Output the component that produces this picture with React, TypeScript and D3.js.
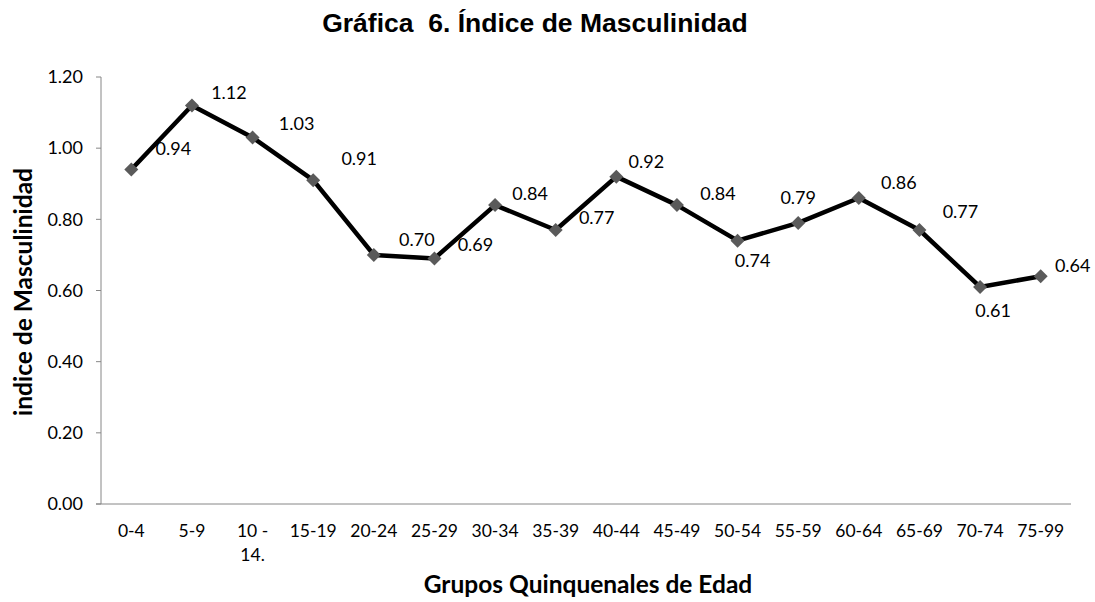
import React from "react";
import * as d3 from "d3";

const categories = ["0-4", "5-9", "10 - 14.", "15-19", "20-24", "25-29", "30-34", "35-39", "40-44", "45-49", "50-54", "55-59", "60-64", "65-69", "70-74", "75-99"];
const values = [0.94, 1.12, 1.03, 0.91, 0.70, 0.69, 0.84, 0.77, 0.92, 0.84, 0.74, 0.79, 0.86, 0.77, 0.61, 0.64];
const yTicks = [0, 0.2, 0.4, 0.6, 0.8, 1.0, 1.2];

// label placement offsets (layout, not data)
const labelOffsets: [number, number][] = [
  [42, -21], [37, -13], [44, -14], [46, -21], [43, -15], [41, -14], [35, -11], [41, -12],
  [30, -15], [41, -11], [15, 20], [0, -25], [40, -15], [41, -18], [13, 24], [32, -11],
];

const W = 1095;
const H = 602;
const left = 101;
const right = 1071;
const top = 77;
const bottom = 504;

export default function App() {
  const x = d3.scaleBand<string>().domain(categories).range([left, right]).padding(0);
  const y = d3.scaleLinear().domain([0, 1.2]).range([bottom, top]);
  const line = d3
    .line<number>()
    .x((_, i) => (x(categories[i]) as number) + x.bandwidth() / 2)
    .y((d) => y(d));
  const diamond = d3.symbol().type(d3.symbolDiamond2).size(125)() as string;
  const font = "Lato, 'Open Sans', sans-serif";

  return (
    <svg width={W} height={H} style={{ position: "absolute", left: 0, top: 0, background: "#fff" }}>
      <rect x={0} y={0} width={W} height={H} fill="#fff" />
      <text x={535} y={32} textAnchor="middle" fontFamily="'Liberation Sans', Arial, sans-serif" fontWeight="bold" fontSize={26.5} fill="#000" style={{ whiteSpace: "pre" }}>
        {"Gráfica  6. Índice de Masculinidad"}
      </text>
      {/* y axis */}
      <line x1={left} x2={left} y1={top} y2={bottom} stroke="#868686" strokeWidth={1} />
      {yTicks.map((t) => (
        <g key={t}>
          <line x1={left - 5} x2={left} y1={y(t)} y2={y(t)} stroke="#868686" />
          <text x={83} y={y(t)} dy="0.35em" textAnchor="end" fontFamily={font} fontSize={18} fill="#000">
            {t.toFixed(2)}
          </text>
        </g>
      ))}
      {/* x axis */}
      <line x1={left - 5} x2={right} y1={bottom} y2={bottom} stroke="#868686" strokeWidth={1} />
      {categories.map((c) => {
        const cx = (x(c) as number) + x.bandwidth() / 2;
        const parts = c === "10 - 14." ? ["10 -", "14."] : [c];
        return (
          <text key={c} x={cx} y={531} textAnchor="middle" fontFamily={font} fontSize={17.5} fill="#000">
            {parts.map((p, k) => (
              <tspan key={k} x={cx} dy={k === 0 ? "0.35em" : 24}>
                {p}
              </tspan>
            ))}
          </text>
        );
      })}
      {/* titles */}
      <text x={588} y={593} textAnchor="middle" fontFamily={font} fontWeight="bold" fontSize={24.5} fill="#000">
        Grupos Quinquenales de Edad
      </text>
      <text transform={`translate(23,292) rotate(-90)`} dy="0.35em" textAnchor="middle" fontFamily={font} fontWeight="bold" fontSize={24.5} fill="#000">
        indice de Masculinidad
      </text>
      {/* line */}
      <path d={line(values) as string} fill="none" stroke="#000" strokeWidth={4.5} strokeLinejoin="round" />
      {values.map((v, i) => {
        const cx = (x(categories[i]) as number) + x.bandwidth() / 2;
        return <path key={i} d={diamond} transform={`translate(${cx},${y(v)})`} fill="#5a5a5a" />;
      })}
      {values.map((v, i) => {
        const cx = (x(categories[i]) as number) + x.bandwidth() / 2;
        const [dx, dy] = labelOffsets[i];
        return (
          <text key={i} x={cx + dx} y={y(v) + dy} dy="0.35em" textAnchor="middle" fontFamily={font} fontSize={18} fill="#000">
            {v.toFixed(2)}
          </text>
        );
      })}
    </svg>
  );
}
